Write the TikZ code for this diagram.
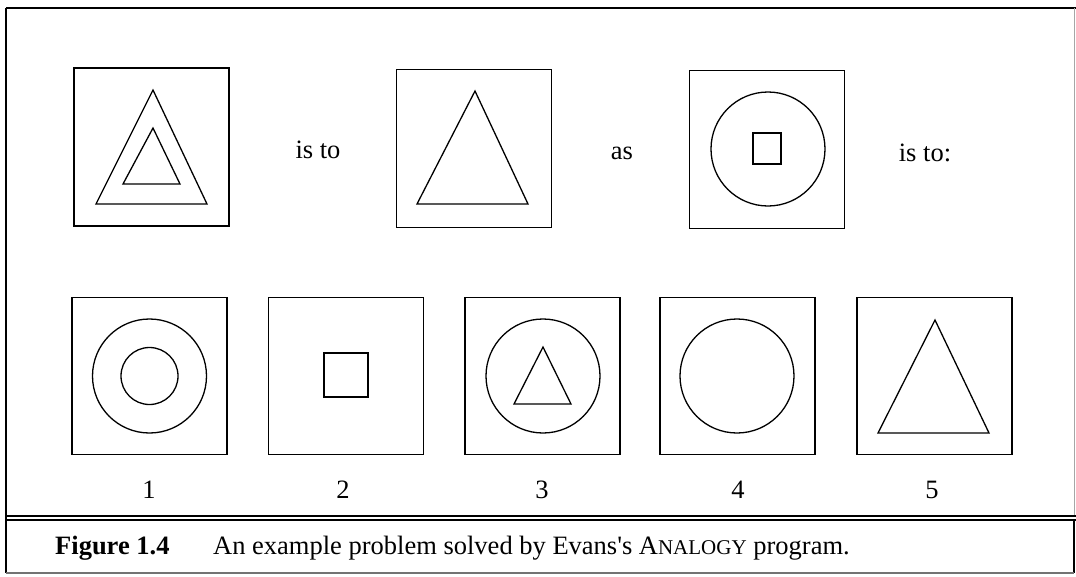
\documentclass[tikz,border=0pt]{standalone}
\usepackage{fontspec}
\setmainfont{Liberation Serif}
\newfontfamily\plainserif{Liberation Serif}[Ligatures=TeXOff]
\begin{document}
\begin{tikzpicture}[x=1pt,y=-1pt,
  panel/.style={draw, line width=1.5pt, minimum width=155pt, minimum height=157pt, inner sep=0pt, outer sep=0pt},
  fig/.style={draw, line width=1.3pt, line join=miter},
  txt/.style={anchor=base, inner sep=0pt, font=\fontsize{26.5}{30}\selectfont},
  frame/.style={line width=2pt}]
\useasboundingbox (0,0) rectangle (1076,576);
% outer frame
\draw[frame] (6,8) -- (1076,8);
\draw[frame] (6,8) -- (6,573);
\draw[line width=0.8pt, black!35] (1074,8) -- (1074,516);
\draw[line width=1.6pt] (6,516) -- (1076,516);
\draw[line width=1.6pt] (6,520) -- (1076,520);
\draw[line width=1.6pt] (1074,520) -- (1074,573);
\draw[line width=2pt, black!55] (6,573) -- (1074,573);
% top row
\node[panel, minimum height=158pt] (pA) at (151.5,147) {};
\node[panel, minimum height=158pt] (pB) at (474,148.5) {};
\node[panel, minimum height=158pt] (pC) at (767,149.5) {};
\draw[fig] (153,90) -- (96,204) -- (207,204) -- cycle;
\draw[fig] (153,128) -- (123,184) -- (180,184) -- cycle;
\draw[fig] (475,91) -- (417,204) -- (528,204) -- cycle;
\draw[fig] (768,149) circle[radius=57];
\draw[fig] (753,133) rectangle (781,164);
\node[txt] (t1) at (318,158) {is to};
\node[txt] (t2) at (622,159) {as};
\node[txt] (t3) at (925,161) {is to:};
% bottom row
\node[panel] (p1) at (149.5,376) {};
\node[panel] (p2) at (346,376) {};
\node[panel] (p3) at (542.5,376) {};
\node[panel] (p4) at (737.5,376) {};
\node[panel] (p5) at (934.5,376) {};
\draw[fig] (149.5,376) circle[radius=57];
\draw[fig] (149.5,376) circle[radius=28.5];
\draw[fig] (324,353) rectangle (368,397);
\draw[fig] (543,376) circle[radius=57];
\draw[fig] (543,347) -- (514,404) -- (571,404) -- cycle;
\draw[fig] (737,376) circle[radius=57];
\draw[fig] (935,320) -- (878,433) -- (989,433) -- cycle;
\node[txt] (n1) at (149,498) {1};
\node[txt] (n2) at (343,498) {2};
\node[txt] (n3) at (542,498) {3};
\node[txt] (n4) at (738,498) {4};
\node[txt] (n5) at (932,498) {5};
% caption
\node[txt, anchor=base west] (cap1) at (55,554) {\textbf{Figure 1.4}};
\node[txt, anchor=base west] (cap2) at (213,554) {An example problem solved by Evans{\plainserif '}s A{\fontsize{21}{24}\selectfont NALOGY} program.};
\end{tikzpicture}
\end{document}
